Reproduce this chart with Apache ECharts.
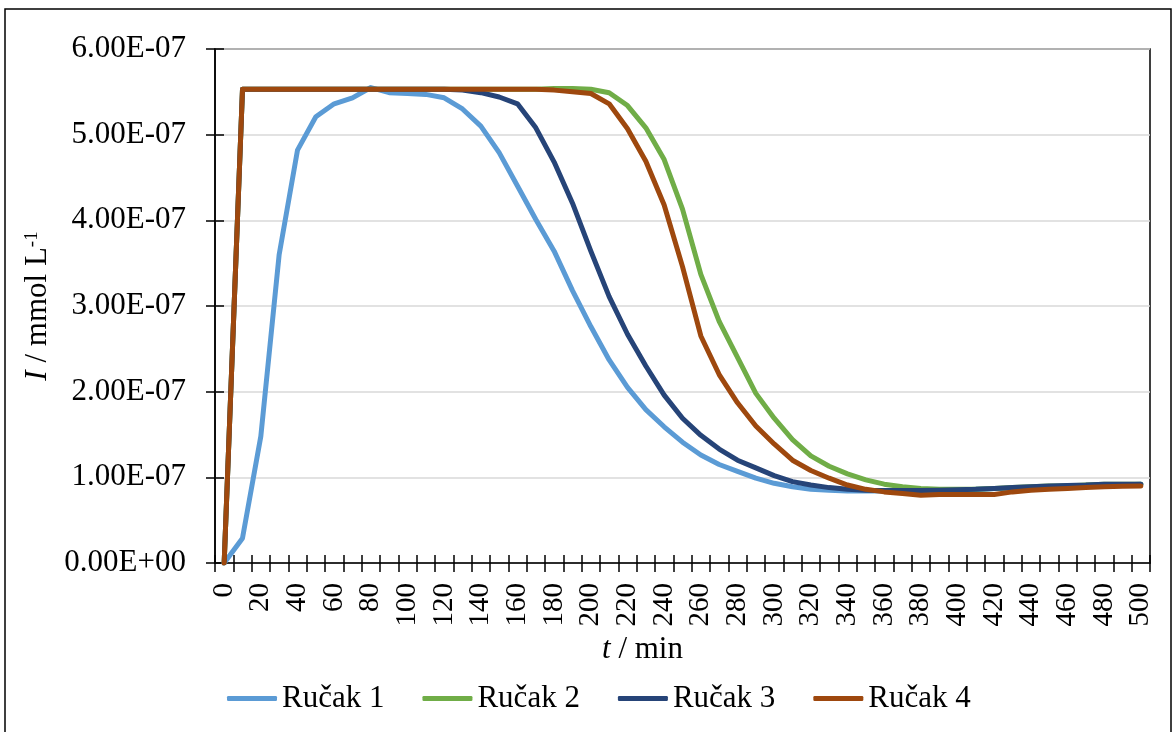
<!DOCTYPE html>
<html>
<head>
<meta charset="utf-8">
<script src="https://cdn.jsdelivr.net/npm/echarts@6/dist/echarts.min.js"></script>
<style>
html,body{margin:0;padding:0;background:#fff;}
#chart{width:1172px;height:732px;}
</style>
</head>
<body>
<div id="chart"></div>
<script>
// time categories (min)
const times = ['0','10','20','30','40','50','60','70','80','90','100','110','120','130','140','150','160','170','180','190','200','210','220','230','240','250','260','270','280','290','300','310','320','330','340','350','360','370','380','390','400','410','420','430','440','450','460','470','480','490','500'];

// I / mmol L-1
const rucak1 = [0, 0.29e-7, 1.48e-7, 3.60e-7, 4.82e-7, 5.21e-7, 5.36e-7, 5.43e-7, 5.55e-7, 5.49e-7,
  5.48e-7, 5.47e-7, 5.43e-7, 5.30e-7, 5.10e-7, 4.79e-7, 4.40e-7, 4.01e-7, 3.64e-7, 3.18e-7,
  2.76e-7, 2.37e-7, 2.05e-7, 1.79e-7, 1.59e-7, 1.41e-7, 1.26e-7, 1.15e-7, 1.07e-7, 0.99e-7,
  0.93e-7, 0.89e-7, 0.86e-7, 0.85e-7, 0.84e-7, 0.84e-7, 0.84e-7, 0.84e-7, 0.84e-7, 0.85e-7,
  0.85e-7, 0.86e-7, 0.87e-7, 0.87e-7, 0.88e-7, 0.89e-7, 0.90e-7, 0.90e-7, 0.91e-7, 0.91e-7, 0.92e-7];

const rucak2 = [0, 5.53e-7, 5.53e-7, 5.53e-7, 5.53e-7, 5.53e-7, 5.53e-7, 5.53e-7, 5.53e-7, 5.53e-7,
  5.53e-7, 5.53e-7, 5.53e-7, 5.53e-7, 5.53e-7, 5.53e-7, 5.53e-7, 5.53e-7, 5.54e-7, 5.54e-7,
  5.53e-7, 5.49e-7, 5.34e-7, 5.08e-7, 4.71e-7, 4.13e-7, 3.37e-7, 2.82e-7, 2.40e-7, 1.98e-7,
  1.69e-7, 1.44e-7, 1.25e-7, 1.13e-7, 1.04e-7, 0.97e-7, 0.92e-7, 0.89e-7, 0.87e-7, 0.86e-7,
  0.86e-7, 0.86e-7, 0.87e-7, 0.88e-7, 0.89e-7, 0.90e-7, 0.90e-7, 0.91e-7, 0.92e-7, 0.92e-7, 0.92e-7];

const rucak3 = [0, 5.53e-7, 5.53e-7, 5.53e-7, 5.53e-7, 5.53e-7, 5.53e-7, 5.53e-7, 5.53e-7, 5.53e-7,
  5.53e-7, 5.53e-7, 5.53e-7, 5.52e-7, 5.49e-7, 5.44e-7, 5.36e-7, 5.08e-7, 4.68e-7, 4.20e-7,
  3.64e-7, 3.11e-7, 2.67e-7, 2.30e-7, 1.96e-7, 1.69e-7, 1.49e-7, 1.33e-7, 1.20e-7, 1.11e-7,
  1.02e-7, 0.95e-7, 0.91e-7, 0.88e-7, 0.86e-7, 0.85e-7, 0.845e-7, 0.845e-7, 0.845e-7, 0.85e-7,
  0.855e-7, 0.86e-7, 0.87e-7, 0.88e-7, 0.89e-7, 0.90e-7, 0.905e-7, 0.91e-7, 0.92e-7, 0.92e-7, 0.92e-7];

const rucak4 = [0, 5.53e-7, 5.53e-7, 5.53e-7, 5.53e-7, 5.53e-7, 5.53e-7, 5.53e-7, 5.53e-7, 5.53e-7,
  5.53e-7, 5.53e-7, 5.53e-7, 5.53e-7, 5.53e-7, 5.53e-7, 5.53e-7, 5.53e-7, 5.52e-7, 5.50e-7,
  5.48e-7, 5.36e-7, 5.07e-7, 4.69e-7, 4.18e-7, 3.46e-7, 2.65e-7, 2.20e-7, 1.87e-7, 1.60e-7,
  1.39e-7, 1.20e-7, 1.08e-7, 0.99e-7, 0.91e-7, 0.86e-7, 0.83e-7, 0.81e-7, 0.79e-7, 0.80e-7,
  0.80e-7, 0.80e-7, 0.80e-7, 0.83e-7, 0.85e-7, 0.86e-7, 0.87e-7, 0.88e-7, 0.89e-7, 0.895e-7, 0.90e-7];

const seriesNames = ['Ručak 1', 'Ručak 2', 'Ručak 3', 'Ručak 4'];
const seriesData = [rucak1, rucak2, rucak3, rucak4];
const colors = ['#5B9BD5', '#70AD47', '#264478', '#9E480E'];

const FONT = 'Liberation Serif, Times New Roman, serif';

function sciLabel(v) {
  if (v === 0) return '0.00E+00';
  const e = Math.floor(Math.log10(Math.abs(v)) + 1e-9);
  const m = v / Math.pow(10, e);
  return m.toFixed(2) + 'E' + (e < 0 ? '-' : '+') + String(Math.abs(e)).padStart(2, '0');
}

const chart = echarts.init(document.getElementById('chart'), null, {renderer: 'canvas'});

const option = {
  animation: false,
  backgroundColor: '#fff',
  color: colors,
  textStyle: {fontFamily: FONT, color: '#000'},
  graphic: [{
    type: 'rect',
    shape: {x: 5, y: 9, width: 1166, height: 760},
    style: {fill: 'none', stroke: '#000', lineWidth: 1.5},
    silent: true
  }],
  grid: {
    left: 215, top: 49, right: 22, bottom: 169,
    show: true, borderColor: '#000', borderWidth: 1.5, backgroundColor: 'transparent'
  },
  legend: {
    data: seriesNames,
    left: 222, top: 678,
    icon: 'roundRect',
    itemWidth: 50, itemHeight: 5, itemGap: 38,
    textStyle: {fontFamily: FONT, fontSize: 31, color: '#000'}
  },
  xAxis: [{
    type: 'category',
    position: 'bottom',
    data: times,
    boundaryGap: true,
    axisLine: {show: true, lineStyle: {color: '#000', width: 1.5}},
    axisTick: {show: true, interval: 0, length: 9, lineStyle: {color: '#000', width: 1.5}},
    axisLabel: {interval: 1, rotate: 90, margin: 20, fontFamily: FONT, fontSize: 29, color: '#000'},
    splitLine: {show: false},
    name: '{it|t} / min',
    nameLocation: 'middle',
    nameGap: 68,
    nameTextStyle: {
      fontFamily: FONT, fontSize: 31, color: '#000', padding: [0, 80, 0, 0],
      rich: {it: {fontFamily: FONT, fontSize: 31, fontStyle: 'italic', color: '#000'}}
    }
  }, {
    type: 'category',
    position: 'bottom',
    data: times,
    boundaryGap: true,
    axisLine: {show: false},
    axisTick: {show: true, inside: true, interval: 0, length: 8, lineStyle: {color: '#000', width: 1.5}},
    axisLabel: {show: false},
    splitLine: {show: false}
  }],
  yAxis: [{
    type: 'value',
    position: 'left',
    min: 0, max: 6e-7, interval: 1e-7,
    axisLine: {show: true, lineStyle: {color: '#000', width: 1.5}},
    axisTick: {show: true, length: 9, lineStyle: {color: '#000', width: 1.5}},
    axisLabel: {margin: 29, formatter: sciLabel, fontFamily: FONT, fontSize: 31, color: '#000'},
    splitLine: {show: true, lineStyle: {color: '#D9D9D9', width: 1.5}},
    name: '{it|I} / mmol L{sup|-1}',
    nameLocation: 'middle',
    nameRotate: 90,
    nameGap: 157,
    nameTextStyle: {
      fontFamily: FONT, fontSize: 31, color: '#000',
      rich: {
        it: {fontFamily: FONT, fontSize: 31, fontStyle: 'italic', color: '#000'},
        sup: {fontFamily: FONT, fontSize: 19, color: '#000', verticalAlign: 'top', lineHeight: 31}
      }
    }
  }, {
    type: 'value',
    position: 'left',
    min: 0, max: 6e-7, interval: 1e-7,
    axisLine: {show: false},
    axisTick: {show: true, inside: true, length: 9, lineStyle: {color: '#000', width: 1.5}},
    axisLabel: {show: false},
    splitLine: {show: false}
  }],
  series: seriesNames.map((name, k) => ({
    name: name,
    type: 'line',
    xAxisIndex: 0,
    yAxisIndex: 0,
    data: seriesData[k],
    symbol: 'none',
    smooth: false,
    lineStyle: {width: 5, color: colors[k], cap: 'round', join: 'round'},
    itemStyle: {color: colors[k]},
    z: 3 + k
  }))
};

chart.setOption(option);
</script>
</body>
</html>
